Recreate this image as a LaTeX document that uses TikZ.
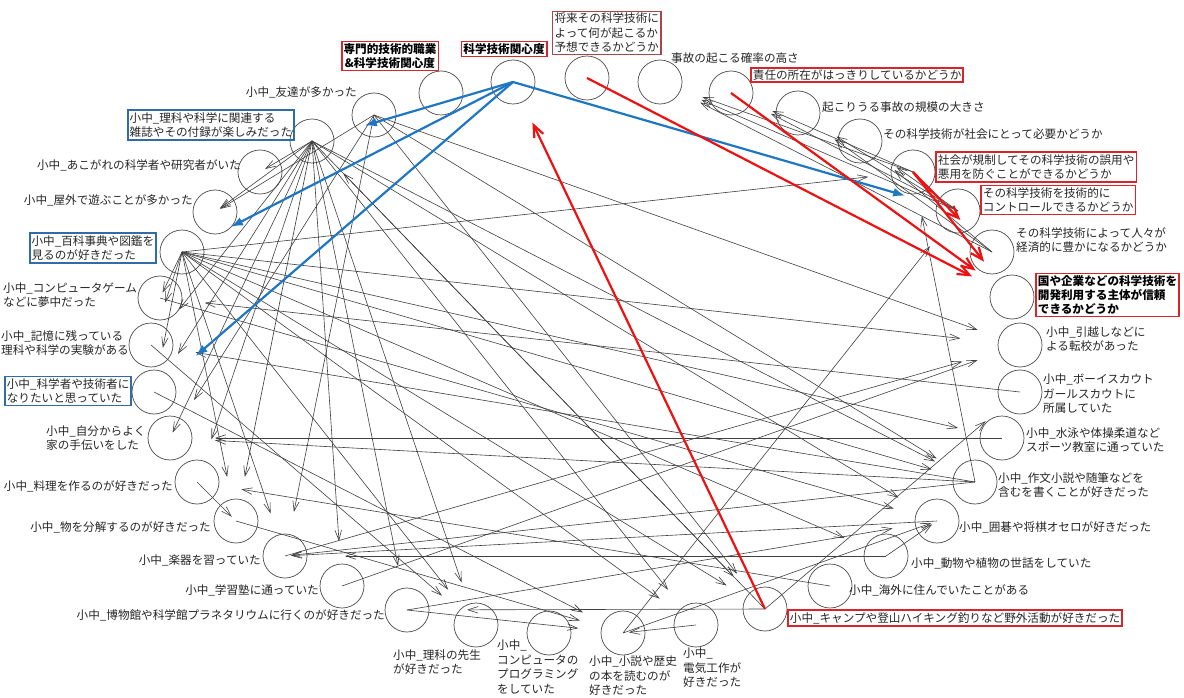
\documentclass[tikz,border=0pt]{standalone}
\usepackage{fontspec}
\newfontfamily\jp{Noto Sans CJK JP}
\usetikzlibrary{arrows.meta}
\definecolor{eblue}{HTML}{1F77C4}
\definecolor{ered}{HTML}{EE1111}
\definecolor{bblue}{HTML}{2E6DA8}
\definecolor{bred}{HTML}{D9252A}
\definecolor{dred}{HTML}{A8464A}
\begin{document}
\begin{tikzpicture}[x=1pt,y=-1pt,
  circ/.style={circle,draw=black!70,line width=0.7pt,minimum size=44pt,inner sep=0pt},
  lab/.style={font=\jp\fontsize{11.6}{14.5}\selectfont,text=black!85,align=left,inner sep=1pt},
  blab/.style={lab,font=\jp\bfseries\fontsize{11.6}{14}\selectfont,text=black},
  rbox/.style={draw=bred,line width=1.8pt,inner sep=2pt},
  bbox/.style={draw=bblue,line width=1.8pt,inner sep=2pt},
  dbox/.style={draw=dred,line width=1.2pt,inner sep=2pt},
  e/.style={draw=black!75,line width=0.6pt,-{Straight Barb[length=10pt,width=6.5pt]},shorten >=45pt},
  en/.style={e,shorten >=6pt},
  ef/.style={e,shorten >=60pt},
  eb/.style={draw=eblue,line width=2.2pt,-{Latex[length=12pt,width=9pt]},shorten >=55pt},
  er/.style={draw=ered,line width=2.2pt,-{Straight Barb[length=12pt,width=10pt,line width=2.2pt]},shorten >=45pt}]
\useasboundingbox (0,0) rectangle (1184,698);
\fill[white] (0,0) rectangle (1184,698);
% circles
\foreach \i/\x/\y in {1/513/82,2/441/93,3/374/115,4/312/141,5/260/172,6/215/212,7/182/252,8/160/298,9/151/345,10/154/392,11/170/438,12/197/482,13/236/521,14/285/556,15/342/586,16/407/610,17/476/625,18/549/633,19/623/633,20/696/625,21/765/609,22/830/586,23/886/556,24/937/521,25/975/482,26/1002/438,27/1020/392,28/1020/345,29/1012/297,30/992/252,31/958/211,32/913/172,33/860/141,34/798/113,35/731/93,36/660/82,37/587/78}
  \node[circ] (n\i) at (\x,\y) {};
% black edges
\foreach \a/\b in {30/36,31/36,32/36,31/35,32/35,31/34,30/34,31/33,30/33,
  4/9,4/10,4/12,4/13,4/15,4/16,4/17,4/20,4/21,4/24,4/25,
  7/9,7/10,7/13,7/14,7/17,7/20,7/21,7/23,7/25,7/26,7/32,
  3/21,3/25,3/28,3/14,3/11,
  9/17,10/19,13/19,15/28,16/19,16/24,21/27,21/4,22/12,25/32,25/11,25/9,26/11,27/8,19/31,8/24}
  \draw[e] (n\a.center) -- (n\b.center);
\foreach \a/\b in {4/5,4/6,3/6,7/8,4/11,12/13,20/19,23/24,24/14,25/14,19/24}
  \draw[en] (n\a.center) -- (n\b.center);
\foreach \a/\b in {21/16,23/14,14/28,7/28}
  \draw[ef] (n\a.center) -- (n\b.center);
% blue edges
\foreach \b in {4,7,10,31}
  \draw[eb] (n1.center) -- (n\b.center);
% red edges
\draw[er] (n21.center) -- (n1.center);
\draw[er] (n37.center) -- (n29.center);
\draw[er] (n35.center) -- (n29.center);
\draw[er] (n32.center) -- (n30.center);
\draw[er] (n32.center) -- (n29.center);
% labels
\node[blab,rbox] (l1) at (504,49) {科学技術関心度};
\node[blab,rbox,align=center] (l2) at (390,56) {専門的技術的職業\\\&科学技術関心度};
\node[lab,anchor=east] (l3) at (358,92) {小中\_友達が多かった};
\node[lab,bbox,anchor=east] (l4) at (295,125) {小中\_理科や科学に関連する\\雑誌やその付録が楽しみだった};
\node[lab,anchor=east] (l5) at (242,165) {小中\_あこがれの科学者や研究者がいた};
\node[lab,anchor=east] (l6) at (194,200) {小中\_屋外で遊ぶことが多かった};
\node[lab,bbox,anchor=east] (l7) at (157,248) {小中\_百科事典や図鑑を\\見るのが好きだった};
\node[lab,anchor=west] (l8) at (2,295) {小中\_コンピュータゲーム\\などに夢中だった};
\node[lab,anchor=west] (l9) at (0,343) {小中\_記憶に残っている\\理科や科学の実験がある};
\node[lab,bbox,anchor=west] (l10) at (4,391) {小中\_科学者や技術者に\\なりたいと思っていた};
\node[lab,anchor=west] (l11) at (45,438) {小中\_自分からよく\\家の手伝いをした};
\node[lab,anchor=east] (l12) at (174,486) {小中\_料理を作るのが好きだった};
\node[lab,anchor=east] (l13) at (212,527) {小中\_物を分解するのが好きだった};
\node[lab,anchor=east] (l14) at (262,560) {小中\_楽器を習っていた};
\node[lab,anchor=east] (l15) at (320,590) {小中\_学習塾に通っていた};
\node[lab,anchor=east] (l16) at (386,615) {小中\_博物館や科学館プラネタリウムに行くのが好きだった};
\node[lab,anchor=west] (l17) at (392,662) {小中\_理科の先生\\が好きだった};
\node[lab,anchor=west] (l18) at (496,667) {小中\_\\コンピュータの\\プログラミング\\をしていた};
\node[lab,anchor=west] (l19) at (588,676) {小中\_小説や歴史\\の本を読むのが\\好きだった};
\node[lab,anchor=west] (l20) at (682,668) {小中\_\\電気工作が\\好きだった};
\node[lab,rbox,anchor=west] (l21) at (787,618) {小中\_キャンプや登山ハイキング釣りなど野外活動が好きだった};
\node[lab,anchor=west] (l22) at (848,590) {小中\_海外に住んでいたことがある};
\node[lab,anchor=west] (l23) at (910,563) {小中\_動物や植物の世話をしていた};
\node[lab,anchor=west] (l24) at (958,527) {小中\_囲碁や将棋オセロが好きだった};
\node[lab,anchor=west] (l25) at (997,485) {小中\_作文小説や随筆などを\\含むを書くことが好きだった};
\node[lab,anchor=west] (l26) at (1025,440) {小中\_水泳や体操柔道など\\スポーツ教室に通っていた};
\node[lab,anchor=west] (l27) at (1042,394) {小中\_ボーイスカウト\\ガールスカウトに\\所属していた};
\node[lab,anchor=west] (l28) at (1045,339) {小中\_引越しなどに\\よる転校があった};
\node[blab,rbox,anchor=west] (l29) at (1035,295) {国や企業などの科学技術を\\開発利用する主体が信頼\\できるかどうか};
\node[lab,anchor=west] (l30) at (1015,240) {その科学技術によって人々が\\経済的に豊かになるかどうか};
\node[lab,rbox,anchor=west] (l31) at (980,200) {その科学技術を技術的に\\コントロールできるかどうか};
\node[lab,rbox,anchor=west] (l32) at (935,167) {社会が規制してその科学技術の誤用や\\悪用を防ぐことができるかどうか};
\node[lab,anchor=west] (l33) at (882,134) {その科学技術が社会にとって必要かどうか};
\node[lab,anchor=west] (l34) at (821,107) {起こりうる事故の規模の大きさ};
\node[lab,rbox,anchor=west] (l35) at (750,75) {責任の所在がはっきりしているかどうか};
\node[lab,anchor=west] (l36) at (670,58) {事故の起こる確率の高さ};
\node[lab,dbox,anchor=west] (l37) at (552,33) {将来その科学技術に\\よって何が起こるか\\予想できるかどうか};
\end{tikzpicture}
\end{document}
